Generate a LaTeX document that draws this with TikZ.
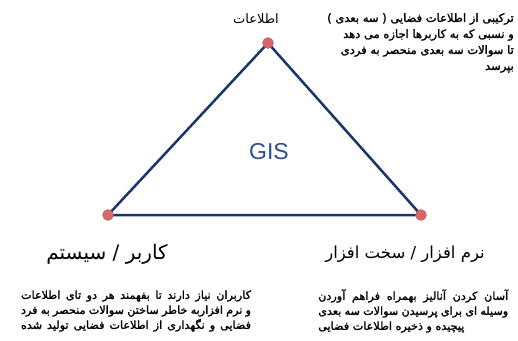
\documentclass[tikz,border=0pt]{standalone}
\usepackage{fontspec}
\usetikzlibrary{backgrounds}
\TeXXeTstate=1
\newfontfamily\fa[Script=Arabic]{DejaVu Sans}
\newfontfamily\fab[Script=Arabic,FakeBold=1.6]{DejaVu Sans}
\newfontfamily\gisfont{Liberation Sans}
\definecolor{navy}{HTML}{1B3568}
\definecolor{dotred}{HTML}{D9676A}
\definecolor{gisblue}{HTML}{2B4F8F}
\tikzset{
  dotnode/.style={circle, fill=dotred, draw=dotred!80!black, line width=0.3pt, minimum size=11pt, inner sep=0pt},
  edge/.style={draw=navy, line width=2.5pt, line join=round},
  head/.style={inner sep=0pt},
  body/.style={font=\fab\fontsize{11.2}{15}\selectfont, inner sep=0pt},
}
\begin{document}
\begin{tikzpicture}[x=1pt,y=-1pt]
\useasboundingbox (0,0) rectangle (518,340);
\node[dotnode] (top) at (268,43) {};
\node[dotnode] (left) at (108,215) {};
\node[dotnode] (right) at (421,215) {};
\begin{scope}[on background layer]
\fill[white] (0,0) rectangle (518,340);
\draw[edge] (top.center) -- (left.center) -- (right.center) -- cycle;
\end{scope}
\node[text=gisblue, font=\gisfont\fontsize{23}{26}\selectfont, inner sep=0pt] (gis) at (269,152) {GIS};
\node[font=\fa\fontsize{13}{15}\selectfont, inner sep=0pt] (info) at (256,19) {\beginR اطلاعات\endR};
\node[body, font=\fab\fontsize{11.5}{16}\selectfont, anchor=north east, align=right] (infodesc) at (514,13) {%
\beginR ترکیبی از اطلاعات فضایی ( سه بعدی )\endR\\
\beginR و نسبی که به کاربرها اجازه می دهد\endR\\
\beginR تا سوالات سه بعدی منحصر به فردی\endR\\
\beginR بپرسد\endR};
\node[head, font=\fa\fontsize{20}{22}\selectfont] (userhead) at (107,254) {\beginR کاربر / سیستم\endR};
\node[head, font=\fa\fontsize{16.5}{19}\selectfont] (swhead) at (405,254) {\beginR نرم افزار / سخت افزار\endR};
\node[body, align=center] (userdesc) at (136,311) {%
\hbox to 230pt{\beginR کاربران نیاز دارند تا بفهمند هر دو تای اطلاعات\endR}\\
\hbox to 230pt{\beginR و نرم افزاربه خاطر ساختن سوالات منحصر به فرد\endR}\\
\hbox to 230pt{\beginR فضایی و نگهداری از اطلاعات فضایی تولید شده\endR}};
\node[body, anchor=west, align=left] (swdesc) at (318,311) {%
\hbox to 190pt{\beginR آسان کردن آنالیز بهمراه فراهم آوردن\endR}\\
\hbox to 190pt{\beginR وسیله ای برای پرسیدن سوالات سه بعدی\endR}\\
\beginR پیچیده و ذخیره اطلاعات فضایی\endR};
\end{tikzpicture}
\end{document}
